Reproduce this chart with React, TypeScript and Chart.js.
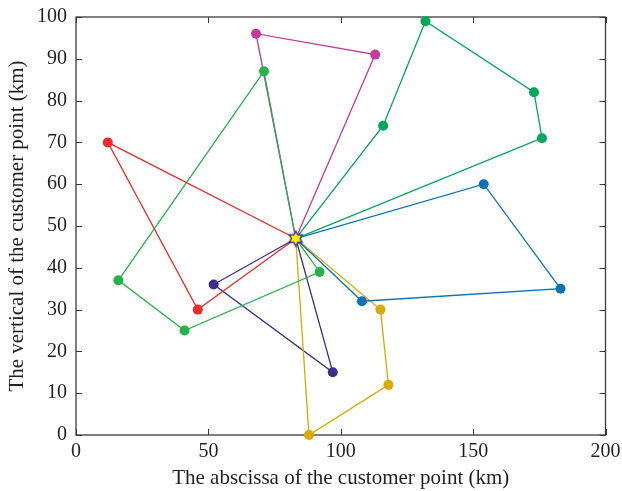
import React, { useEffect, useRef } from "react";
import { Chart, registerables } from "chart.js";

Chart.register(...registerables);

// Distribution centre
const depotX = 83;
const depotY = 47;

// Customer points of each vehicle route, in visiting order (km)
const redX = [12, 46];
const redY = [70, 30];

const greenX = [71, 16, 41, 92];
const greenY = [87, 37, 25, 39];

const magentaX = [68, 113];
const magentaY = [96, 91];

const tealX = [116, 132, 173, 176];
const tealY = [74, 99, 82, 71];

const blueX = [154, 183, 108];
const blueY = [60, 35, 32];

const goldX = [88, 118, 115];
const goldY = [0, 12, 30];

const purpleX = [52, 97];
const purpleY = [36, 15];

const xTicks = [0, 50, 100, 150, 200];
const yTicks = [0, 10, 20, 30, 40, 50, 60, 70, 80, 90, 100];

const SERIF = "'Liberation Serif', 'Times New Roman', serif";
const AXIS = "#3a3a3a";
const TEXT = "#231f20";

function routeData(xs: number[], ys: number[]) {
  const pts = [{ x: depotX, y: depotY }];
  xs.forEach((x, i) => pts.push({ x, y: ys[i] }));
  pts.push({ x: depotX, y: depotY });
  return pts;
}

function routeDataset(xs: number[], ys: number[], color: string) {
  const data = routeData(xs, ys);
  return {
    data,
    showLine: true,
    borderColor: color,
    backgroundColor: color,
    borderWidth: 1.3,
    pointRadius: data.map((_, i) => (i === 0 || i === data.length - 1 ? 0 : 5)),
    pointBorderWidth: 0,
    pointHoverRadius: 0,
    clip: false as const,
    order: 1,
  };
}

function makeStar(): HTMLCanvasElement {
  const c = document.createElement("canvas");
  const s = 18;
  c.width = s;
  c.height = s;
  const g = c.getContext("2d")!;
  const cx = s / 2;
  const cy = s / 2;
  const ro = 7.5;
  const ri = 4.3;
  g.beginPath();
  for (let i = 0; i < 12; i++) {
    const r = i % 2 === 0 ? ro : ri;
    const a = -Math.PI / 2 + (i * Math.PI) / 6;
    const px = cx + r * Math.cos(a);
    const py = cy + r * Math.sin(a);
    if (i === 0) g.moveTo(px, py);
    else g.lineTo(px, py);
  }
  g.closePath();
  g.fillStyle = "#fff200";
  g.fill();
  g.lineWidth = 1.4;
  g.strokeStyle = "#3d2b8e";
  g.stroke();
  return c;
}

const frameTicks = {
  id: "frameTicks",
  beforeDatasetsDraw(chart: any) {
    const { ctx, chartArea: a, scales } = chart;
    const len = 6;
    ctx.save();
    ctx.strokeStyle = AXIS;
    ctx.lineWidth = 1.3;
    ctx.strokeRect(a.left, a.top, a.right - a.left, a.bottom - a.top);
    ctx.lineWidth = 1;
    ctx.beginPath();
    xTicks.forEach((v) => {
      const px = Math.round(scales.x.getPixelForValue(v)) + 0.5;
      ctx.moveTo(px, a.bottom);
      ctx.lineTo(px, a.bottom - len);
      ctx.moveTo(px, a.top);
      ctx.lineTo(px, a.top + len);
    });
    yTicks.forEach((v) => {
      const py = Math.round(scales.y.getPixelForValue(v)) + 0.5;
      ctx.moveTo(a.left, py);
      ctx.lineTo(a.left + len, py);
      ctx.moveTo(a.right, py);
      ctx.lineTo(a.right - len, py);
    });
    ctx.stroke();
    ctx.restore();
  },
};

export default function App() {
  const ref = useRef<HTMLCanvasElement>(null);

  useEffect(() => {
    if (!ref.current) return;
    const star = makeStar();
    const chart = new Chart(ref.current, {
      type: "scatter",
      data: {
        datasets: [
          {
            data: [{ x: depotX, y: depotY }],
            pointStyle: star as any,
            pointRadius: 9,
            pointHoverRadius: 9,
            showLine: false,
            clip: false as const,
            order: 0,
          } as any,
          routeDataset(redX, redY, "#ee2a2a"),
          routeDataset(greenX, greenY, "#26b24b"),
          routeDataset(magentaX, magentaY, "#c4399c"),
          routeDataset(tealX, tealY, "#00a85a"),
          routeDataset(blueX, blueY, "#0a72bd"),
          routeDataset(goldX, goldY, "#d9aa00"),
          routeDataset(purpleX, purpleY, "#3e2d8f"),
        ],
      },
      options: {
        animation: false,
        responsive: false,
        events: [],
        layout: { padding: { top: 17, right: 16.5, left: 0, bottom: 0 } },
        plugins: {
          legend: { display: false },
          tooltip: { enabled: false },
        },
        scales: {
          x: {
            type: "linear",
            min: 0,
            max: 200,
            afterBuildTicks: (s: any) => {
              s.ticks = xTicks.map((v) => ({ value: v }));
            },
            afterFit: (s: any) => {
              s.height = 56;
              s.paddingLeft = 0;
              s.paddingRight = 0;
            },
            grid: { display: false, drawTicks: false },
            border: { display: false },
            ticks: {
              font: { family: SERIF, size: 20 },
              color: TEXT,
              padding: 5,
              maxRotation: 0,
            },
            title: {
              display: true,
              text: "The abscissa of the customer point (km)",
              font: { family: SERIF, size: 21 },
              color: TEXT,
              padding: { top: 0, bottom: 0 },
            },
          },
          y: {
            type: "linear",
            min: 0,
            max: 100,
            afterBuildTicks: (s: any) => {
              s.ticks = yTicks.map((v) => ({ value: v }));
            },
            afterFit: (s: any) => {
              s.width = 76;
              s.paddingTop = 0;
              s.paddingBottom = 0;
            },
            grid: { display: false, drawTicks: false },
            border: { display: false },
            ticks: {
              font: { family: SERIF, size: 20 },
              color: TEXT,
              padding: 9,
            },
            title: {
              display: true,
              text: "The vertical of the customer point (km)",
              font: { family: SERIF, size: 21 },
              color: TEXT,
              padding: { top: 5, bottom: 0 },
            },
          },
        },
      },
      plugins: [frameTicks],
    });
    return () => chart.destroy();
  }, []);

  return (
    <div style={{ position: "absolute", left: 0, top: 0, width: 622, height: 491, background: "#fff" }}>
      <canvas ref={ref} width={622} height={491} style={{ display: "block" }} />
    </div>
  );
}
